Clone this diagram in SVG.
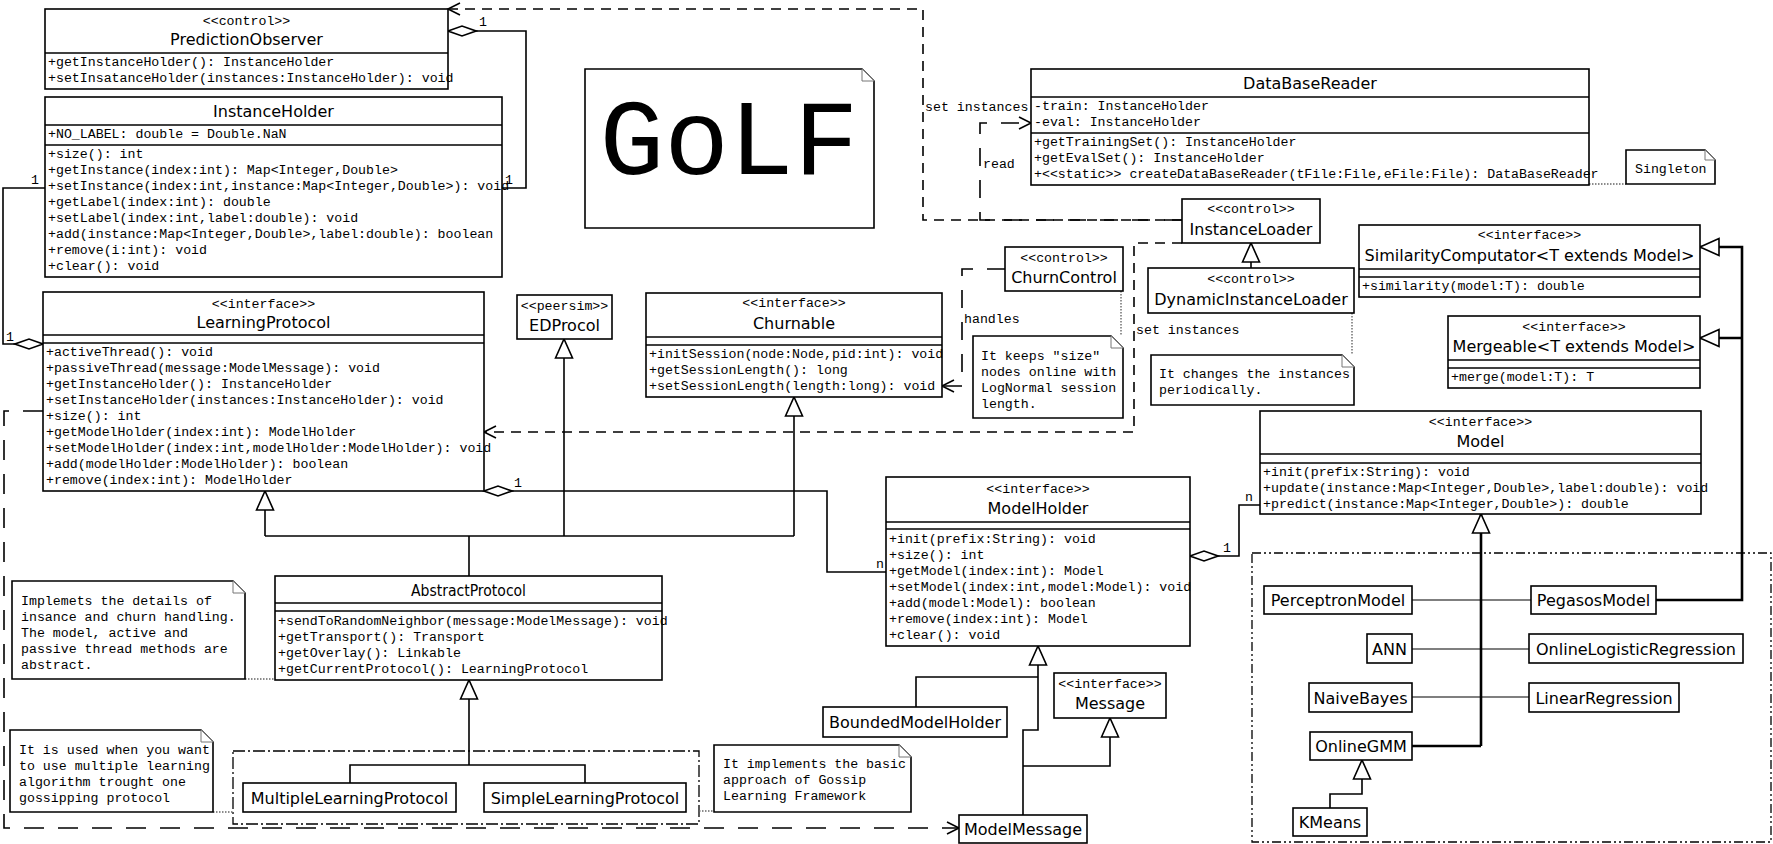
<svg xmlns="http://www.w3.org/2000/svg" width="1773" height="844" viewBox="0 0 1773 844">
<style>
.bg{fill:#fff}
.box{fill:#fff;stroke:#000;stroke-width:1.6}
.dv{stroke:#000;stroke-width:1.6;fill:none}
.nm{font-family:"DejaVu Sans",sans-serif;font-size:16px;text-anchor:middle;fill:#000}
.st{font-family:"Liberation Mono",monospace;font-size:13.25px;text-anchor:middle;fill:#000}
.mb{font-family:"Liberation Mono",monospace;font-size:13.25px;fill:#000}
.ln{fill:none;stroke:#000;stroke-width:1.6}
.thick{fill:none;stroke:#000;stroke-width:2.6}
.thin{fill:none;stroke:#000;stroke-width:1.2}
.dep{fill:none;stroke:#000;stroke-width:1.6;stroke-dasharray:10 7}
.dep2{fill:none;stroke:#000;stroke-width:1.6;stroke-dasharray:18 14}
.dep3{fill:none;stroke:#000;stroke-width:1.6;stroke-dasharray:20 14}
.dot{fill:none;stroke:#666;stroke-width:1.4;stroke-dasharray:1.5 1.5}
.note{fill:#fff;stroke:#000;stroke-width:1.6}
.fold{fill:#fff;stroke:#777;stroke-width:1}
.grp1{fill:none;stroke:#000;stroke-width:1.3;stroke-dasharray:12 3 2 3}
.grp2{fill:none;stroke:#000;stroke-width:1.3;stroke-dasharray:9 3 2 3 2 3}
.golf{font-family:"Liberation Mono",monospace;font-size:108px;text-anchor:middle;fill:#000}
</style>
<defs>
<marker id="tri" markerUnits="userSpaceOnUse" viewBox="-2 -2 23 21" markerWidth="23" markerHeight="21" refX="19" refY="8.5" orient="auto"><path d="M0,0 L19,8.5 L0,17 Z" fill="#fff" stroke="#000" stroke-width="1.6" stroke-dasharray="none"/></marker>
<marker id="open" markerUnits="userSpaceOnUse" viewBox="-2 -2 16 16" markerWidth="16" markerHeight="16" refX="12" refY="6" orient="auto"><path d="M0,0 L12,6 L0,12" fill="none" stroke="#000" stroke-width="1.6" stroke-dasharray="none"/></marker>
<marker id="dia" markerUnits="userSpaceOnUse" viewBox="-2 -2 32 14" markerWidth="32" markerHeight="14" refX="0" refY="5" orient="auto"><path d="M0,5 L14,0 L28,5 L14,10 Z" fill="#fff" stroke="#000" stroke-width="1.6" stroke-dasharray="none"/></marker>
</defs>
<rect class="bg" x="0" y="0" width="1773" height="844"/>

<!-- group frames -->
<rect class="grp1" x="233" y="751" width="466" height="73"/>
<rect class="grp2" x="1252" y="553" width="519" height="289"/>

<g id="connectors">
<!-- aggregations -->
<path class="ln" d="M448,31 H526 V188 H502" marker-start="url(#dia)"/>
<text class="mb" x="479" y="26">1</text>
<text class="mb" x="505" y="184">1</text>
<path class="ln" d="M43,344 H3 V188 H45" marker-start="url(#dia)"/>
<text class="mb" x="31" y="184">1</text>
<text class="mb" x="6" y="341">1</text>
<path class="ln" d="M484,491 H827 V572 H886" marker-start="url(#dia)"/>
<text class="mb" x="514" y="487">1</text>
<text class="mb" x="876" y="568">n</text>
<path class="ln" d="M1190,556 H1239 V505 H1260" marker-start="url(#dia)"/>
<text class="mb" x="1223" y="552">1</text>
<text class="mb" x="1245" y="501">n</text>
<!-- dependencies -->
<path class="dep" d="M1182,220 H923 V9 H448" marker-end="url(#open)"/>
<text class="mb" x="925" y="111">set instances</text>
<path class="dep2" d="M1182,220 H980 V123 H1031" marker-end="url(#open)"/>
<text class="mb" x="983" y="168">read</text>
<path class="dep" d="M1182,243 H1134 V432 H484" marker-end="url(#open)"/>
<text class="mb" x="1136" y="334">set instances</text>
<path class="dep2" d="M1005,269 H962 V386 H942" marker-end="url(#open)"/>
<text class="mb" x="964" y="323">handles</text>
<path class="dep3" d="M43,411 H4 V828 H959" marker-end="url(#open)"/>
<!-- generalizations -->
<path class="ln" d="M1251,268 V243" marker-end="url(#tri)"/>
<path class="ln" d="M469,576 V536"/>
<path class="ln" d="M265,536 H794"/>
<path class="ln" d="M265,536 V491" marker-end="url(#tri)"/>
<path class="ln" d="M564,536 V339" marker-end="url(#tri)"/>
<path class="ln" d="M794,536 V397" marker-end="url(#tri)"/>
<path class="ln" d="M350,783 V765 H585 V783"/>
<path class="ln" d="M469,765 V680" marker-end="url(#tri)"/>
<path class="ln" d="M916,707 V677 H1038"/>
<path class="ln" d="M1023,815 V730 H1038 V646" marker-end="url(#tri)"/>
<path class="ln" d="M1023,766 H1110 V718" marker-end="url(#tri)"/>
<path class="thin" d="M1412,600 H1531"/>
<path class="thin" d="M1412,649 H1529"/>
<path class="thin" d="M1412,697 H1529"/>
<path class="thick" d="M1412,746 H1481"/>
<path class="thick" d="M1481,746 V514" marker-end="url(#tri)"/>
<path class="thick" d="M1656,600 H1742 V247 H1700" marker-end="url(#tri)"/>
<path class="thick" d="M1742,338 H1700" marker-end="url(#tri)"/>
<path class="ln" d="M1330,808 V794 H1362 V760" marker-end="url(#tri)"/>
<!-- note anchors -->
<path class="dot" d="M1121,291 V336"/>
<path class="dot" d="M1352,313 V355"/>
<path class="dot" d="M1589,184 H1626"/>
<path class="dot" d="M245,679 H275"/>
<path class="dot" d="M213,812 H233"/>
<path class="dot" d="M699,811 H714"/>
</g>

<g id="PredictionObserver">
<rect class="box" x="45" y="9" width="403" height="80"/>
<line class="dv" x1="45" y1="53" x2="448" y2="53"/>
<text class="st" x="246.5" y="25">&lt;&lt;control&gt;&gt;</text>
<text class="nm" x="246.5" y="45">PredictionObserver</text>
<text class="mb" x="48" y="66">+getInstanceHolder(): InstanceHolder</text>
<text class="mb" x="48" y="82">+setInsatanceHolder(instances:InstanceHolder): void</text>
</g>

<g id="InstanceHolder">
<rect class="box" x="45" y="97" width="457" height="180"/>
<line class="dv" x1="45" y1="125" x2="502" y2="125"/>
<line class="dv" x1="45" y1="145" x2="502" y2="145"/>
<text class="nm" x="273.5" y="117">InstanceHolder</text>
<text class="mb" x="48" y="138">+NO_LABEL: double = Double.NaN</text>
<text class="mb" x="48" y="158">+size(): int</text>
<text class="mb" x="48" y="174">+getInstance(index:int): Map&lt;Integer,Double&gt;</text>
<text class="mb" x="48" y="190">+setInstance(index:int,instance:Map&lt;Integer,Double&gt;): void</text>
<text class="mb" x="48" y="206">+getLabel(index:int): double</text>
<text class="mb" x="48" y="222">+setLabel(index:int,label:double): void</text>
<text class="mb" x="48" y="238">+add(instance:Map&lt;Integer,Double&gt;,label:double): boolean</text>
<text class="mb" x="48" y="254">+remove(i:int): void</text>
<text class="mb" x="48" y="270">+clear(): void</text>
</g>

<g id="GoLFNote">
<path class="note" d="M585,69 H862 L874,81 V228 H585 Z"/>
<path class="fold" d="M862,69 V81 H874"/>
<text class="golf" x="729" y="174">GoLF</text>
</g>

<g id="LearningProtocol">
<rect class="box" x="43" y="292" width="441" height="199"/>
<line class="dv" x1="43" y1="335" x2="484" y2="335"/>
<line class="dv" x1="43" y1="343" x2="484" y2="343"/>
<text class="st" x="263.5" y="308">&lt;&lt;interface&gt;&gt;</text>
<text class="nm" x="263.5" y="328">LearningProtocol</text>
<text class="mb" x="46" y="356">+activeThread(): void</text>
<text class="mb" x="46" y="372">+passiveThread(message:ModelMessage): void</text>
<text class="mb" x="46" y="388">+getInstanceHolder(): InstanceHolder</text>
<text class="mb" x="46" y="404">+setInstanceHolder(instances:InstanceHolder): void</text>
<text class="mb" x="46" y="420">+size(): int</text>
<text class="mb" x="46" y="436">+getModelHolder(index:int): ModelHolder</text>
<text class="mb" x="46" y="452">+setModelHolder(index:int,modelHolder:ModelHolder): void</text>
<text class="mb" x="46" y="468">+add(modelHolder:ModelHolder): boolean</text>
<text class="mb" x="46" y="484">+remove(index:int): ModelHolder</text>
</g>

<g id="EDProcol">
<rect class="box" x="517" y="295" width="95" height="44"/>
<text class="st" x="564.5" y="310">&lt;&lt;peersim&gt;&gt;</text>
<text class="nm" x="564.5" y="331">EDProcol</text>
</g>

<g id="Churnable">
<rect class="box" x="646" y="293" width="296" height="104"/>
<line class="dv" x1="646" y1="337" x2="942" y2="337"/>
<line class="dv" x1="646" y1="345" x2="942" y2="345"/>
<text class="st" x="794" y="307">&lt;&lt;interface&gt;&gt;</text>
<text class="nm" x="794" y="329">Churnable</text>
<text class="mb" x="649" y="358">+initSession(node:Node,pid:int): void</text>
<text class="mb" x="649" y="374">+getSessionLength(): long</text>
<text class="mb" x="649" y="390">+setSessionLength(length:long): void</text>
</g>

<g id="ChurnControl">
<rect class="box" x="1005" y="247" width="118" height="44"/>
<text class="st" x="1064" y="262">&lt;&lt;control&gt;&gt;</text>
<text class="nm" x="1064" y="283">ChurnControl</text>
</g>

<g id="ChurnNote">
<path class="note" d="M973,336 H1111 L1123,348 V418 H973 Z"/>
<path class="fold" d="M1111,336 V348 H1123"/>
<text class="mb" x="981" y="360">It keeps "size"</text>
<text class="mb" x="981" y="376">nodes online with</text>
<text class="mb" x="981" y="392">LogNormal session</text>
<text class="mb" x="981" y="408">length.</text>
</g>

<g id="InstanceLoader">
<rect class="box" x="1182" y="199" width="138" height="44"/>
<text class="st" x="1251" y="213">&lt;&lt;control&gt;&gt;</text>
<text class="nm" x="1251" y="235">InstanceLoader</text>
</g>

<g id="DynamicInstanceLoader">
<rect class="box" x="1148" y="268" width="206" height="45"/>
<text class="st" x="1251" y="283">&lt;&lt;control&gt;&gt;</text>
<text class="nm" x="1251" y="305">DynamicInstanceLoader</text>
</g>

<g id="DynamicNote">
<path class="note" d="M1151,355 H1342 L1354,367 V405 H1151 Z"/>
<path class="fold" d="M1342,355 V367 H1354"/>
<text class="mb" x="1159" y="378">It changes the instances</text>
<text class="mb" x="1159" y="394">periodically.</text>
</g>

<g id="DataBaseReader">
<rect class="box" x="1031" y="69" width="558" height="116"/>
<line class="dv" x1="1031" y1="97" x2="1589" y2="97"/>
<line class="dv" x1="1031" y1="133" x2="1589" y2="133"/>
<text class="nm" x="1310" y="89">DataBaseReader</text>
<text class="mb" x="1034" y="110">-train: InstanceHolder</text>
<text class="mb" x="1034" y="126">-eval: InstanceHolder</text>
<text class="mb" x="1034" y="146">+getTrainingSet(): InstanceHolder</text>
<text class="mb" x="1034" y="162">+getEvalSet(): InstanceHolder</text>
<text class="mb" x="1034" y="178">+&lt;&lt;static&gt;&gt; createDataBaseReader(tFile:File,eFile:File): DataBaseReader</text>
</g>

<g id="SingletonNote">
<path class="note" d="M1626,150 H1705 L1715,160 V184 H1626 Z"/>
<path class="fold" d="M1705,150 V160 H1715"/>
<text class="mb" x="1635" y="173">Singleton</text>
</g>

<g id="SimilarityComputator">
<rect class="box" x="1359" y="225" width="341" height="72"/>
<line class="dv" x1="1359" y1="269" x2="1700" y2="269"/>
<line class="dv" x1="1359" y1="277" x2="1700" y2="277"/>
<text class="st" x="1529.5" y="239">&lt;&lt;interface&gt;&gt;</text>
<text class="nm" x="1529.5" y="261">SimilarityComputator&lt;T extends Model&gt;</text>
<text class="mb" x="1362" y="290">+similarity(model:T): double</text>
</g>

<g id="Mergeable">
<rect class="box" x="1448" y="316" width="252" height="72"/>
<line class="dv" x1="1448" y1="360" x2="1700" y2="360"/>
<line class="dv" x1="1448" y1="368" x2="1700" y2="368"/>
<text class="st" x="1574" y="331">&lt;&lt;interface&gt;&gt;</text>
<text class="nm" x="1574" y="352">Mergeable&lt;T extends Model&gt;</text>
<text class="mb" x="1451" y="381">+merge(model:T): T</text>
</g>

<g id="Model">
<rect class="box" x="1260" y="411" width="441" height="103"/>
<line class="dv" x1="1260" y1="454" x2="1701" y2="454"/>
<line class="dv" x1="1260" y1="463" x2="1701" y2="463"/>
<text class="st" x="1480.5" y="426">&lt;&lt;interface&gt;&gt;</text>
<text class="nm" x="1480.5" y="447">Model</text>
<text class="mb" x="1263" y="476">+init(prefix:String): void</text>
<text class="mb" x="1263" y="492">+update(instance:Map&lt;Integer,Double&gt;,label:double): void</text>
<text class="mb" x="1263" y="508">+predict(instance:Map&lt;Integer,Double&gt;): double</text>
</g>

<g id="ModelHolder">
<rect class="box" x="886" y="477" width="304" height="169"/>
<line class="dv" x1="886" y1="522" x2="1190" y2="522"/>
<line class="dv" x1="886" y1="529" x2="1190" y2="529"/>
<text class="st" x="1038" y="493">&lt;&lt;interface&gt;&gt;</text>
<text class="nm" x="1038" y="514">ModelHolder</text>
<text class="mb" x="889" y="543">+init(prefix:String): void</text>
<text class="mb" x="889" y="559">+size(): int</text>
<text class="mb" x="889" y="575">+getModel(index:int): Model</text>
<text class="mb" x="889" y="591">+setModel(index:int,model:Model): void</text>
<text class="mb" x="889" y="607">+add(model:Model): boolean</text>
<text class="mb" x="889" y="623">+remove(index:int): Model</text>
<text class="mb" x="889" y="639">+clear(): void</text>
</g>

<g id="Message">
<rect class="box" x="1054" y="673" width="112" height="45"/>
<text class="st" x="1110" y="688">&lt;&lt;interface&gt;&gt;</text>
<text class="nm" x="1110" y="709">Message</text>
</g>

<g id="BoundedModelHolder">
<rect class="box" x="823" y="707" width="184" height="30"/>
<text class="nm" x="915" y="728">BoundedModelHolder</text>
</g>

<g id="ModelMessage">
<rect class="box" x="959" y="815" width="128" height="28"/>
<text class="nm" x="1023" y="835">ModelMessage</text>
</g>

<g id="ImplementsNote">
<path class="note" d="M714,745 H899 L911,757 V812 H714 Z"/>
<path class="fold" d="M899,745 V757 H911"/>
<text class="mb" x="723" y="768">It implements the basic</text>
<text class="mb" x="723" y="784">approach of Gossip</text>
<text class="mb" x="723" y="800">Learning Framework</text>
</g>

<g id="AbstractProtocol">
<rect class="box" x="275" y="576" width="387" height="104"/>
<line class="dv" x1="275" y1="603" x2="662" y2="603"/>
<line class="dv" x1="275" y1="611" x2="662" y2="611"/>
<text class="nm" x="468.5" y="596" textLength="115" lengthAdjust="spacingAndGlyphs">AbstractProtocol</text>
<text class="mb" x="278" y="625">+sendToRandomNeighbor(message:ModelMessage): void</text>
<text class="mb" x="278" y="641">+getTransport(): Transport</text>
<text class="mb" x="278" y="657">+getOverlay(): Linkable</text>
<text class="mb" x="278" y="673">+getCurrentProtocol(): LearningProtocol</text>
</g>

<g id="AbstractNote">
<path class="note" d="M12,581 H233 L245,593 V679 H12 Z"/>
<path class="fold" d="M233,581 V593 H245"/>
<text class="mb" x="21" y="605">Implemets the details of</text>
<text class="mb" x="21" y="621">insance and churn handling.</text>
<text class="mb" x="21" y="637">The model, active and</text>
<text class="mb" x="21" y="653">passive thread methods are</text>
<text class="mb" x="21" y="669">abstract.</text>
</g>

<g id="MultipleNote">
<path class="note" d="M10,730 H201 L213,742 V812 H10 Z"/>
<path class="fold" d="M201,730 V742 H213"/>
<text class="mb" x="19" y="754">It is used when you want</text>
<text class="mb" x="19" y="770">to use multiple learning</text>
<text class="mb" x="19" y="786">algorithm trought one</text>
<text class="mb" x="19" y="802">gossipping protocol</text>
</g>

<g id="MultipleLearningProtocol">
<rect class="box" x="243" y="783" width="213" height="29"/>
<text class="nm" x="349.5" y="804">MultipleLearningProtocol</text>
</g>

<g id="SimpleLearningProtocol">
<rect class="box" x="484" y="783" width="202" height="29"/>
<text class="nm" x="585" y="804">SimpleLearningProtocol</text>
</g>

<g id="PerceptronModel">
<rect class="box" x="1264" y="586" width="148" height="28"/>
<text class="nm" x="1338" y="606">PerceptronModel</text>
</g>
<g id="PegasosModel">
<rect class="box" x="1531" y="586" width="125" height="28"/>
<text class="nm" x="1593.5" y="606">PegasosModel</text>
</g>
<g id="ANN">
<rect class="box" x="1367" y="634" width="45" height="29"/>
<text class="nm" x="1389.5" y="655">ANN</text>
</g>
<g id="OnlineLogisticRegression">
<rect class="box" x="1529" y="634" width="214" height="29"/>
<text class="nm" x="1636" y="655">OnlineLogisticRegression</text>
</g>
<g id="NaiveBayes">
<rect class="box" x="1309" y="683" width="103" height="29"/>
<text class="nm" x="1360.5" y="704">NaiveBayes</text>
</g>
<g id="LinearRegression">
<rect class="box" x="1529" y="683" width="150" height="29"/>
<text class="nm" x="1604" y="704">LinearRegression</text>
</g>
<g id="OnlineGMM">
<rect class="box" x="1310" y="732" width="102" height="28"/>
<text class="nm" x="1361" y="752">OnlineGMM</text>
</g>
<g id="KMeans">
<rect class="box" x="1293" y="808" width="74" height="28"/>
<text class="nm" x="1330" y="828">KMeans</text>
</g>
</svg>
